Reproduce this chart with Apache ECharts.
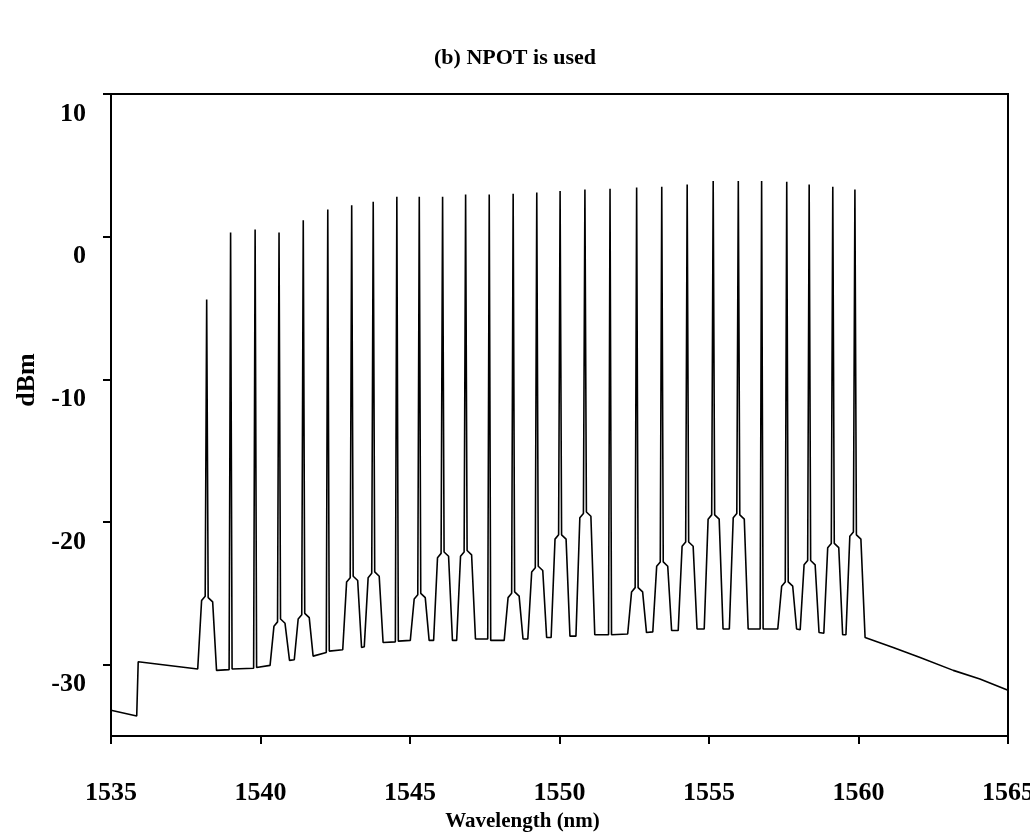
<!DOCTYPE html>
<html>
<head>
<meta charset="utf-8">
<script src="https://cdn.jsdelivr.net/npm/echarts@6/dist/echarts.min.js"></script>
<style>
html,body{margin:0;padding:0;background:#fff;}
#chart{width:1030px;height:832px;}
</style>
</head>
<body>
<div id="chart"></div>
<script>
// ---- data ----
const titleText = '(b) NPOT is used';
const xName = 'Wavelength (nm)';
const yName = 'dBm';
const yTickValues = [-30, -20, -10, 0, 10];

// spectrum trace: wavelength (nm)
const traceNm = [
  1535.00, 1535.86, 1535.91, 1537.90,
  1538.03, 1538.15, 1538.20, 1538.25, 1538.40, 1538.53,
  1538.95, 1539.00, 1539.05,
  1539.77, 1539.82, 1539.87,
  1540.32, 1540.45, 1540.57, 1540.62, 1540.67, 1540.82, 1540.97,
  1541.13, 1541.26, 1541.38, 1541.43, 1541.48, 1541.63, 1541.76,
  1542.20, 1542.25, 1542.30,
  1542.75, 1542.88, 1543.00, 1543.05, 1543.10, 1543.25, 1543.38,
  1543.47, 1543.60, 1543.72, 1543.77, 1543.82, 1543.97, 1544.10,
  1544.51, 1544.56, 1544.61,
  1545.01, 1545.14, 1545.26, 1545.31, 1545.36, 1545.51, 1545.64,
  1545.79, 1545.92, 1546.04, 1546.09, 1546.14, 1546.29, 1546.42,
  1546.56, 1546.69, 1546.81, 1546.86, 1546.91, 1547.06, 1547.19,
  1547.60, 1547.65, 1547.70,
  1548.15, 1548.28, 1548.40, 1548.45, 1548.50, 1548.65, 1548.78,
  1548.94, 1549.07, 1549.19, 1549.24, 1549.29, 1549.44, 1549.57,
  1549.72, 1549.85, 1549.97, 1550.02, 1550.07, 1550.22, 1550.35,
  1550.55, 1550.68, 1550.80, 1550.85, 1550.90, 1551.05, 1551.18,
  1551.64, 1551.69, 1551.74,
  1552.28, 1552.41, 1552.53, 1552.58, 1552.63, 1552.78, 1552.91,
  1553.12, 1553.25, 1553.37, 1553.42, 1553.47, 1553.62, 1553.75,
  1553.97, 1554.10, 1554.22, 1554.27, 1554.32, 1554.47, 1554.60,
  1554.84, 1554.97, 1555.09, 1555.14, 1555.19, 1555.34, 1555.47,
  1555.68, 1555.81, 1555.93, 1555.98, 1556.03, 1556.18, 1556.31,
  1556.71, 1556.76, 1556.81,
  1557.30, 1557.43, 1557.55, 1557.60, 1557.65, 1557.80, 1557.93,
  1558.05, 1558.18, 1558.30, 1558.35, 1558.40, 1558.55, 1558.68,
  1558.84, 1558.97, 1559.09, 1559.14, 1559.19, 1559.34, 1559.47,
  1559.58, 1559.71, 1559.83, 1559.88, 1559.93, 1560.08, 1560.22,
  1561.16, 1562.06, 1563.17, 1564.06, 1565.00
];

// spectrum trace: power (dBm)
const traceDbm = [
  -33.2, -33.6, -29.8, -30.3,
  -25.5, -25.2, -4.4, -25.3, -25.6, -30.4,
  -30.35, 0.3, -30.3,
  -30.25, 0.5, -30.2,
  -30.05, -27.3, -27.0, 0.3, -26.8, -27.1, -29.7,
  -29.65, -26.8, -26.5, 1.15, -26.4, -26.7, -29.4,
  -29.15, 1.9, -29.05,
  -28.95, -24.2, -23.9, 2.2, -23.8, -24.1, -28.8,
  -28.75, -23.9, -23.6, 2.45, -23.5, -23.8, -28.45,
  -28.4, 2.8, -28.35,
  -28.3, -25.4, -25.1, 2.8, -25.0, -25.3, -28.3,
  -28.3, -22.5, -22.2, 2.8, -22.1, -22.4, -28.3,
  -28.3, -22.4, -22.1, 2.95, -22.0, -22.3, -28.2,
  -28.2, 2.95, -28.3,
  -28.3, -25.3, -25.0, 3.0, -24.9, -25.2, -28.2,
  -28.2, -23.5, -23.2, 3.1, -23.1, -23.4, -28.1,
  -28.1, -21.2, -20.9, 3.2, -20.9, -21.2, -28.0,
  -28.0, -19.7, -19.4, 3.3, -19.3, -19.6, -27.9,
  -27.9, 3.35, -27.9,
  -27.85, -24.9, -24.6, 3.45, -24.6, -24.9, -27.75,
  -27.7, -23.1, -22.8, 3.5, -22.8, -23.1, -27.6,
  -27.6, -21.7, -21.4, 3.65, -21.4, -21.7, -27.5,
  -27.5, -19.8, -19.5, 3.9, -19.5, -19.8, -27.5,
  -27.5, -19.7, -19.4, 3.9, -19.5, -19.8, -27.5,
  -27.5, 3.9, -27.5,
  -27.5, -24.5, -24.2, 3.85, -24.2, -24.5, -27.5,
  -27.55, -23.0, -22.7, 3.65, -22.7, -23.0, -27.75,
  -27.8, -21.8, -21.5, 3.5, -21.5, -21.8, -27.9,
  -27.9, -21.0, -20.7, 3.3, -20.9, -21.2, -28.1,
  -28.8, -29.5, -30.4, -31.0, -31.8
];

// ---- chart ----
const FONT = "'Liberation Serif', 'Times New Roman', serif";
const seriesData = traceNm.map((x, i) => [x, traceDbm[i]]);

const chart = echarts.init(document.getElementById('chart'), null, {renderer: 'canvas'});
chart.setOption({
  animation: false,
  backgroundColor: '#ffffff',
  title: {
    text: titleText,
    left: 'center',
    top: 42,
    textStyle: {fontFamily: FONT, fontWeight: 'bold', fontSize: 22, color: '#000'}
  },
  grid: {
    left: 111, right: 22, top: 94, bottom: 96,
    outerBoundsMode: 'none',
    containLabel: false,
    show: true, borderColor: '#000', borderWidth: 2, backgroundColor: 'transparent'
  },
  xAxis: {
    type: 'value',
    min: 1535, max: 1565, interval: 5,
    name: xName,
    nameLocation: 'middle',
    nameGap: 75,
    nameTextStyle: {fontFamily: FONT, fontWeight: 'bold', fontSize: 21, color: '#000', padding: [0, 74, 0, 0]},
    axisLine: {show: true, onZero: false, lineStyle: {color: '#000', width: 2}},
    axisTick: {show: true, inside: false, length: 8, lineStyle: {color: '#000', width: 2}},
    axisLabel: {
      fontFamily: FONT, fontWeight: 'bold', fontSize: 26, color: '#000', margin: 44,
      formatter: v => String(v)
    },
    splitLine: {show: false}
  },
  yAxis: {
    type: 'value',
    min: -35, max: 10,
    name: yName,
    nameLocation: 'middle',
    nameGap: 62,
    nameRotate: 90,
    nameTextStyle: {fontFamily: FONT, fontWeight: 'bold', fontSize: 26, color: '#000', padding: [0, 0, 0, 70]},
    axisLine: {show: true, onZero: false, lineStyle: {color: '#000', width: 2}},
    axisTick: {show: true, inside: false, length: 8, customValues: yTickValues, lineStyle: {color: '#000', width: 2}},
    axisLabel: {
      fontFamily: FONT, fontWeight: 'bold', fontSize: 26, color: '#000',
      margin: 25, customValues: yTickValues, lineHeight: 40,
      formatter: v => '\n' + String(v)
    },
    splitLine: {show: false}
  },
  series: [{
    type: 'line',
    data: seriesData,
    showSymbol: false,
    symbol: 'none',
    lineStyle: {color: '#000', width: 1.6},
    z: 3
  }]
});
</script>
</body>
</html>
